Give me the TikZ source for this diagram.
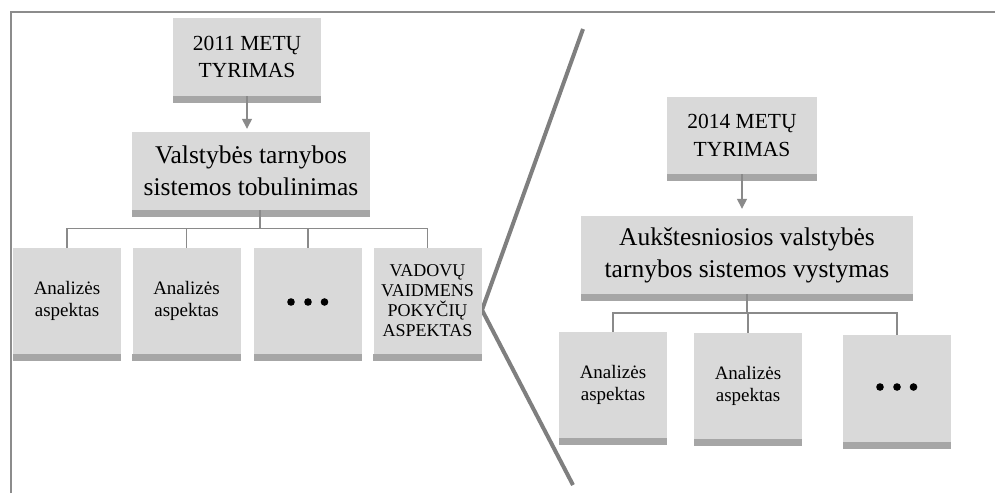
\documentclass[tikz,border=0pt]{standalone}
\usepackage{fontspec}
\setmainfont{Liberation Serif}
\usetikzlibrary{arrows.meta}
\definecolor{boxgray}{HTML}{D9D9D9}
\definecolor{stripgray}{HTML}{A6A6A6}
\definecolor{linegray}{HTML}{8A8A8A}
\definecolor{vgray}{HTML}{7F7F7F}
\definecolor{framegray}{HTML}{8C8C8C}

\begin{document}
\begin{tikzpicture}[x=1pt,y=-1pt,
  basebox/.style={fill=boxgray, inner sep=0pt, align=center},
  yearbox/.style={basebox, minimum width=148pt, minimum height=78pt,
    font=\fontsize{21.5}{27.5}\selectfont},
  topicbox/.style={basebox, minimum height=78pt,
    font=\fontsize{25.5}{32}\selectfont},
  aspectbox/.style={basebox, minimum width=108pt, minimum height=106pt,
    font=\fontsize{19}{21.5}\selectfont},
  capsbox/.style={basebox, minimum width=108pt, minimum height=106pt,
    font=\fontsize{18}{20}\selectfont},
  conn/.style={draw=linegray, line width=1.4pt},
  arrowconn/.style={conn, -{Triangle[length=10pt,width=10pt]}},
  dot/.style={fill=black},
]
\useasboundingbox (0,0) rectangle (995,493);

% page frame (top and left rules)
\draw[framegray, line width=2pt] (10.5,493) -- (10.5,11.5) -- (995,11.5);

% separating chevron
\coordinate (vtop) at (583,29);
\coordinate (vtip) at (482,310);
\coordinate (vbot) at (573,485);
\draw[vgray, line width=4pt, line join=miter] (vtop) -- (vtip) -- (vbot);

% ---- 2011 study ----
\node[yearbox] (y11) at (247,57) {2011 METŲ\\TYRIMAS};
\node[topicbox, minimum width=238pt] (t11) at (251,171)
  {Valstybės tarnybos\\sistemos tobulinimas};
\node[aspectbox] (l1) at (67,301) {Analizės\\aspektas};
\node[aspectbox] (l2) at (186.5,301) {Analizės\\aspektas};
\node[aspectbox] (l3) at (308,301) {};
\node[capsbox] (l4) at (427.5,301) {VADOVŲ\\VAIDMENS\\POKYČIŲ\\ASPEKTAS};

% ---- 2014 study ----
\node[yearbox, minimum width=150pt, minimum height=77pt] (y14) at (742,135.5)
  {2014 METŲ\\TYRIMAS};
\node[topicbox, minimum width=332pt] (t14) at (747,255)
  {Aukštesniosios valstybės\\tarnybos sistemos vystymas};
\node[aspectbox] (r1) at (613,385) {Analizės\\aspektas};
\node[aspectbox] (r2) at (748,386) {Analizės\\aspektas};
\node[aspectbox, minimum height=107pt] (r3) at (897,388.5) {};

% shaded strips under every box
\foreach \n in {y11,t11,l1,l2,l3,l4,y14,t14,r1,r2,r3}
  \fill[stripgray] (\n.south west) rectangle ([yshift=-7pt]\n.south east);

% ellipsis dots
\foreach \dx in {-17,0,16.5}{
  \fill[dot] ([xshift=\dx pt,yshift=-1pt]l3.center) circle (3.8pt);
  \fill[dot] ([xshift=\dx pt,yshift=1.5pt]r3.center) circle (3.8pt);
}

% arrows from the studies to their topics
\draw[arrowconn, shorten >=3pt] (y11.south) -- (y11.south |- t11.north);
\draw[arrowconn, shorten >=7pt] (y14.south) -- (y14.south |- t14.north);

% left tree
\coordinate (lbus) at (260,228.5);
\draw[conn] ([xshift=9pt]t11.south) -- (lbus);
\draw[conn] (l1.north) -- (l1.north |- lbus) -- (l4.north |- lbus) -- (l4.north);
\draw[conn] (l2.north) -- (l2.north |- lbus);
\draw[conn] (l3.north) -- (l3.north |- lbus);

% right tree
\coordinate (rbus) at (747,313);
\draw[conn] (t14.south) -- (rbus);
\draw[conn] (r1.north) -- (r1.north |- rbus) -- (r3.north |- rbus) -- (r3.north);
\draw[conn] (r2.north) -- (r2.north |- rbus);
\end{tikzpicture}
\end{document}
